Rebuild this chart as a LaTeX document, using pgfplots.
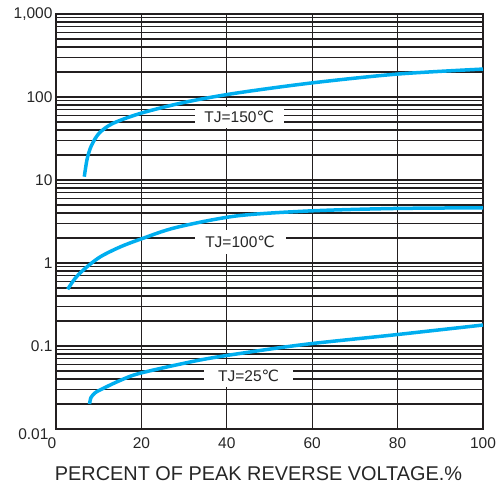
\documentclass[border=0pt]{standalone}
\usepackage{pgfplots}
\pgfplotsset{compat=1.18}
\usepackage{fontspec}
\setmainfont{Liberation Sans}
\newfontfamily\djv{DejaVu Sans}
\definecolor{curve}{HTML}{00AEEF}
\definecolor{gridc}{HTML}{231F20}
\begin{document}
\begin{tikzpicture}
\begin{axis}[
  at={(0,0)}, anchor=south west,
  scale only axis, width=427bp, height=415bp,
  ymode=log, xmin=0, xmax=100, ymin=0.01, ymax=1000,
  xtick={0,20,40,60,80,100},
  xticklabels={{\kern-8bp 0},20,40,60,80,100},
  ytick={0.01,0.1,1,10,100,1000},
  yticklabels={{\raisebox{-5bp}[11bp][0bp]{0.01\kern4bp}},0.1,1,10,100,{1{,}000}},
  minor ytick={0.02,0.03,0.04,0.05,0.06,0.07,0.08,0.09,
               0.2,0.3,0.4,0.5,0.6,0.7,0.8,0.9,
               2,3,4,5,6,7,8,9,
               20,30,40,50,60,70,80,90,
               200,300,400,500,600,700,800,900},
  grid=both,
  major grid style={gridc, line width=1.1bp},
  minor grid style={gridc, line width=1.1bp},
  axis line style={gridc, line width=1.1bp},
  major tick length=0pt, minor tick length=0pt,
  tick label style={font=\fontsize{15.5bp}{18bp}\selectfont, text=black!85},
  /pgf/number format/assume math mode=true,
  xticklabel style={anchor=center, yshift=-14bp},
  xlabel={PERCENT OF PEAK REVERSE VOLTAGE.\%},
  xlabel style={at={(axis description cs:0.5,0)}, anchor=center, yshift=-45bp, xshift=-11bp,
                font=\fontsize{19.9bp}{22bp}\selectfont, text=black!85},
]
\addplot[curve, line width=3.5bp, smooth, tension=0.5] coordinates {
  (6.63,10.96) (7.3,18) (8.3,26) (10.1,36.6) (13.3,48) (20,64) (30,86)
  (42,111) (60,148) (80,189) (100,217)};
\addplot[curve, line width=3.5bp, smooth, tension=0.5] coordinates {
  (2.74,0.482) (4.45,0.650) (6.79,0.858) (10.30,1.181) (14.99,1.559)
  (19.91,1.946) (28.10,2.677) (42.15,3.684) (59.02,4.232) (78.92,4.535) (100,4.625)};
\addplot[curve, line width=3.5bp, smooth, tension=0.5] coordinates {
  (7.85,0.0200) (8.20,0.0240) (9.13,0.0272) (10.30,0.0295) (14.99,0.0384)
  (19.91,0.0473) (33.72,0.0678) (45.43,0.0847) (59.02,0.1057) (78.92,0.1357) (100,0.179)};
\node[fill=white, minimum width=89bp, minimum height=21bp, inner sep=0pt,
      font=\fontsize{15.5bp}{18bp}\selectfont, text=black!85]
  at (axis cs:42.9,57.4) {TJ=150{\djv ℃}};
\node[fill=white, minimum width=91bp, minimum height=24bp, inner sep=0pt,
      font=\fontsize{15.5bp}{18bp}\selectfont, text=black!85]
  at (axis cs:43.1,1.79) {TJ=100{\djv ℃}};
\node[fill=white, minimum width=89bp, minimum height=22bp, inner sep=0pt,
      font=\fontsize{15.5bp}{18bp}\selectfont, text=black!85]
  at (axis cs:45.1,0.0435) {TJ=25{\djv ℃}};
\end{axis}
\pgfresetboundingbox
\useasboundingbox (-56bp,-56bp) rectangle (442bp,429bp);
\end{tikzpicture}
\end{document}
